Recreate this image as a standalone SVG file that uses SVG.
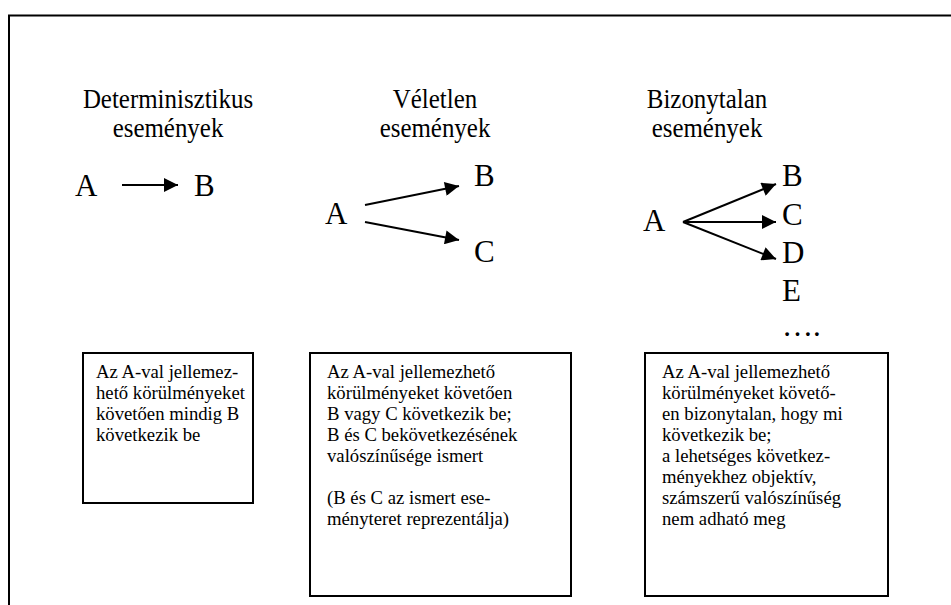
<svg xmlns="http://www.w3.org/2000/svg" width="951" height="605" viewBox="0 0 951 605">
<style>
.h{font-family:"Liberation Serif","Times New Roman",serif;font-size:28px;text-anchor:middle;fill:#000}
.L{font-family:"Liberation Serif","Times New Roman",serif;font-size:31px;fill:#000}
.t{font-family:"Liberation Serif","Times New Roman",serif;font-size:18.7px;fill:#000}
.box{fill:#fff;stroke:#000;stroke-width:2}
.c{stroke:#000;stroke-width:2;fill:none;marker-end:url(#ah)}
</style>
<defs>
<marker id="ah" viewBox="0 0 10 10" refX="10" refY="5" markerWidth="7.5" markerHeight="7" orient="auto" markerUnits="strokeWidth">
<path d="M0,0 L10,5 L0,10 Z" fill="#000"/>
</marker>
</defs>
<rect width="951" height="605" fill="#fff"/>
<path d="M9,605 L9,15.5 L951,15.5" fill="none" stroke="#000" stroke-width="2"/>
<g id="det">
<text class="h" transform="translate(168,108) scale(0.89,1)">Determinisztikus</text>
<text class="h" transform="translate(168,137) scale(0.89,1)">események</text>
<text class="L" x="75" y="196">A</text>
<text class="L" x="194" y="196">B</text>
</g>
<g id="vel">
<text class="h" transform="translate(435,108) scale(0.89,1)">Véletlen</text>
<text class="h" transform="translate(435,137) scale(0.89,1)">események</text>
<text class="L" x="325" y="224">A</text>
<text class="L" x="474" y="186">B</text>
<text class="L" x="474" y="262">C</text>
</g>
<g id="biz">
<text class="h" transform="translate(707,108) scale(0.89,1)">Bizonytalan</text>
<text class="h" transform="translate(707,137) scale(0.89,1)">események</text>
<text class="L" x="643" y="231">A</text>
<text class="L" x="782" y="186">B</text>
<text class="L" x="782" y="225">C</text>
<text class="L" x="782" y="263">D</text>
<text class="L" x="782" y="301">E</text>
<text class="L" x="782" y="336">….</text>
</g>
<g id="connectors">
<path class="c" d="M122,185 L178,185"/>
<path class="c" d="M365,205 L459,186"/>
<path class="c" d="M365,222 L459,240"/>
<path class="c" d="M683,222 L776,184"/>
<path class="c" d="M683,222 L776,222"/>
<path class="c" d="M683,222 L776,259"/>
</g>
<g id="box1">
<rect class="box" x="83" y="353" width="170" height="150"/>
<text class="t"><tspan x="96" y="378">Az A-val jellemez-</tspan><tspan x="96" y="399">hető körülményeket</tspan><tspan x="96" y="420">követően mindig B</tspan><tspan x="96" y="441">következik be</tspan></text>
</g>
<g id="box2">
<rect class="box" x="310" y="353" width="261" height="243"/>
<text class="t"><tspan x="327" y="378">Az A-val jellemezhető</tspan><tspan x="327" y="399">körülményeket követően</tspan><tspan x="327" y="420">B vagy C következik be;</tspan><tspan x="327" y="441">B és C bekövetkezésének</tspan><tspan x="327" y="462">valószínűsége ismert</tspan><tspan x="327" y="504">(B és C az ismert ese-</tspan><tspan x="327" y="525">ményteret reprezentálja)</tspan></text>
</g>
<g id="box3">
<rect class="box" x="645" y="353" width="243" height="243"/>
<text class="t"><tspan x="662" y="378">Az A-val jellemezhető</tspan><tspan x="662" y="399">körülményeket követő-</tspan><tspan x="662" y="420">en bizonytalan, hogy mi</tspan><tspan x="662" y="441">következik be;</tspan><tspan x="662" y="462">a lehetséges következ-</tspan><tspan x="662" y="483">ményekhez objektív,</tspan><tspan x="662" y="504">számszerű valószínűség</tspan><tspan x="662" y="525">nem adható meg</tspan></text>
</g>
</svg>
